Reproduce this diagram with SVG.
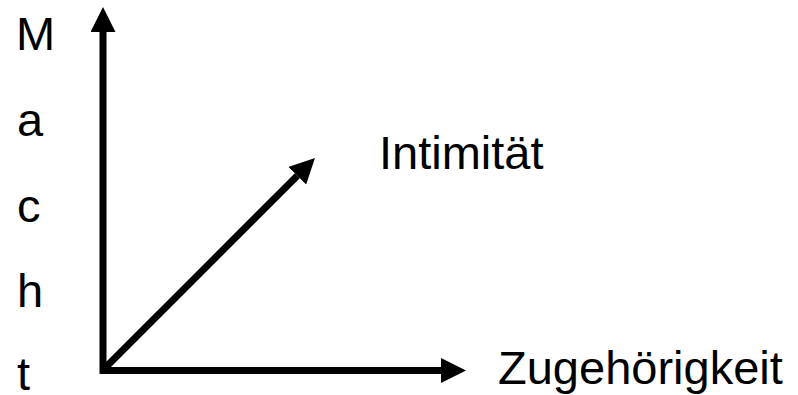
<svg xmlns="http://www.w3.org/2000/svg" width="798" height="395" viewBox="0 0 798 395">
  <style>
    .axis { stroke: #000; stroke-width: 7; fill: none; marker-end: url(#head); }
    .lbl { font-family: "Liberation Sans", Arial, sans-serif; font-size: 47px; fill: #000; }
  </style>
  <defs>
    <marker id="head" markerUnits="userSpaceOnUse" markerWidth="25" markerHeight="25" viewBox="0 0 25 25" refX="0" refY="12.5" orient="auto">
      <path d="M0,0 L25,12.5 L0,25 Z" fill="#000"/>
    </marker>
  </defs>
  <rect width="798" height="395" fill="#fff"/>
  <g id="connectors">
    <line class="axis" x1="103" y1="374" x2="103" y2="32"/>
    <line class="axis" x1="100" y1="370.5" x2="441" y2="370.5"/>
    <line class="axis" x1="103" y1="370" x2="297.3" y2="175.7"/>
  </g>
  <g id="macht">
    <text class="lbl" x="16" y="50">M</text>
    <text class="lbl" x="17" y="136">a</text>
    <text class="lbl" x="17" y="222">c</text>
    <text class="lbl" x="17" y="307">h</text>
    <text class="lbl" x="17" y="390">t</text>
  </g>
  <g id="intimitaet">
    <text class="lbl" x="379" y="169">Intimität</text>
  </g>
  <g id="zugehoerigkeit">
    <text class="lbl" x="498" y="384">Zugehörigkeit</text>
  </g>
</svg>
